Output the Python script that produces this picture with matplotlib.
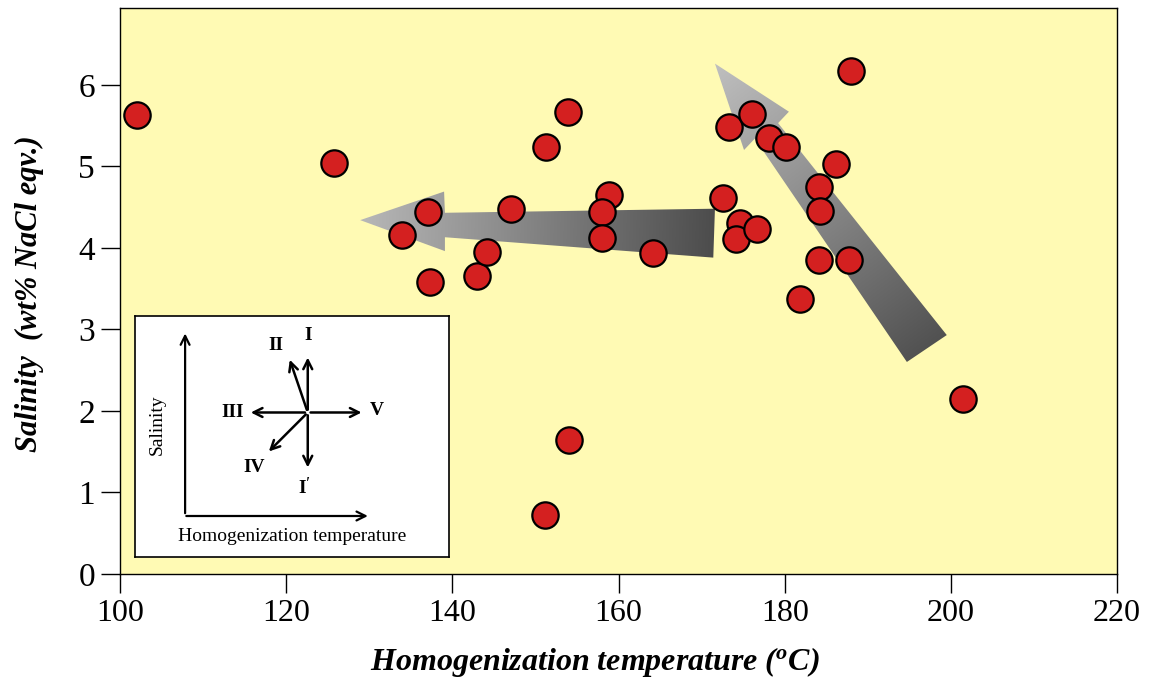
import numpy as np
import matplotlib
matplotlib.use('Agg')
import matplotlib.pyplot as plt
from matplotlib.patches import Polygon

plt.rcParams['font.family'] = ['Liberation Serif', 'DejaVu Serif']
plt.rcParams['mathtext.fontset'] = 'custom'
plt.rcParams['mathtext.rm'] = 'Liberation Serif:bold:italic'
plt.rcParams['mathtext.it'] = 'Liberation Serif:bold:italic'

# homogenization temperature (C) and salinity (wt% NaCl eqv.)
temp = [102.1, 125.8, 133.9, 137.1, 137.3, 143.0, 144.2, 147.1, 151.3, 153.9,
        151.2, 154.0, 158.9, 158.0, 158.0, 164.1, 172.6, 173.3, 174.6, 174.1,
        176.7, 176.1, 178.1, 180.2, 186.2, 184.1, 184.2, 184.1, 187.7, 188.0,
        181.8, 201.4]
salinity = [5.63, 5.04, 4.16, 4.44, 3.58, 3.66, 3.95, 4.48, 5.24, 5.67,
            0.72, 1.64, 4.65, 4.44, 4.12, 3.94, 4.61, 5.48, 4.31, 4.11,
            4.23, 5.64, 5.35, 5.24, 5.03, 4.75, 4.45, 3.85, 3.85, 6.17,
            3.37, 2.14]

xticks = [100, 120, 140, 160, 180, 200, 220]
yticks = [0, 1, 2, 3, 4, 5, 6]

# trend arrows (data coords): outline, tip first
arrow_left = [(128.9, 4.34), (139.0, 4.69), (139.1, 4.43), (171.6, 4.48),
              (171.4, 3.88), (139.1, 4.13), (139.1, 3.96)]
arrow_up = [(171.6, 6.26), (180.5, 5.67), (179.2, 5.53), (199.5, 2.93),
            (194.7, 2.60), (176.4, 5.34), (175.1, 5.20)]


def gradient_arrow(ax, pts, light, dark):
    pts = np.array(pts)
    poly = Polygon(pts, closed=True, facecolor='none', edgecolor='none')
    ax.add_patch(poly)
    x0, x1 = pts[:, 0].min(), pts[:, 0].max()
    y0, y1 = pts[:, 1].min(), pts[:, 1].max()
    X, Y = np.meshgrid(np.linspace(x0, x1, 300), np.linspace(y0, y1, 300))
    sx, sy = 8.31, 81.5  # approx px per data unit
    tip = pts[0]
    tail = (pts[3] + pts[4]) / 2
    du, dv = (tail[0] - tip[0]) * sx, (tail[1] - tip[1]) * sy
    t = ((X - tip[0]) * sx * du + (Y - tip[1]) * sy * dv) / (du ** 2 + dv ** 2)
    t = np.clip(t, 0, 1)[..., None]
    rgb = np.array(light) + t * (np.array(dark) - np.array(light))
    im = ax.imshow(rgb, extent=(x0, x1, y0, y1), origin='lower',
                   aspect='auto', zorder=2, interpolation='bilinear')
    im.set_clip_path(poly)


fig = plt.figure(figsize=(11.52, 6.8), dpi=100)
ax = fig.add_axes([0.1042, 0.156, 0.8655, 0.832])
ax.set_facecolor('#fffab4')

gradient_arrow(ax, arrow_left, (0.72, 0.72, 0.72), (0.30, 0.30, 0.30))
gradient_arrow(ax, arrow_up, (0.75, 0.75, 0.75), (0.32, 0.32, 0.32))

ax.scatter(temp, salinity, s=360, c='#d42020', edgecolors='black',
           linewidths=1.6, zorder=3)

ax.set_xlim(100, 220)
ax.set_ylim(0, 6.94)
ax.set_xticks(xticks)
ax.set_yticks(yticks)
ax.tick_params(direction='out', length=14, width=1, pad=4)
ax.tick_params(axis='x', labelsize=23)
ax.tick_params(axis='y', labelsize=24)
for s in ax.spines.values():
    s.set_linewidth(1)

ax.set_xlabel(r'Homogenization temperature ($^{\rm o}$C)', fontsize=23,
              fontweight='bold', fontstyle='italic')
ax.xaxis.set_label_coords(0.476, -0.125)
ax.set_ylabel('Salinity  (wt% NaCl eqv.)', fontsize=22, fontweight='bold',
              fontstyle='italic')
ax.yaxis.set_label_coords(-0.076, 0.495)

# inset sketch of trends
ins = fig.add_axes([0.117, 0.181, 0.273, 0.354])
ins.set_xlim(0, 1)
ins.set_ylim(0, 1)
ins.set_xticks([])
ins.set_yticks([])
for s in ins.spines.values():
    s.set_linewidth(1.2)

akw = dict(arrowstyle='->', lw=1.6, color='black', mutation_scale=16)
ins.annotate('', xy=(0.16, 0.94), xytext=(0.16, 0.17), arrowprops=akw)
ins.annotate('', xy=(0.75, 0.17), xytext=(0.155, 0.17), arrowprops=akw)
ins.text(0.07, 0.55, 'Salinity', rotation=90, ha='center', va='center', fontsize=14)
ins.text(0.5, 0.085, 'Homogenization temperature', ha='center', va='center', fontsize=14)

c = (0.55, 0.60)
dirs = {
    'I': ((0.55, 0.84), (0.55, 0.92)),
    'II': ((0.49, 0.83), (0.45, 0.88)),
    'III': ((0.36, 0.60), (0.31, 0.60)),
    'V': ((0.73, 0.60), (0.77, 0.61)),
    'IV': ((0.42, 0.43), (0.38, 0.37)),
    r'I$^{\prime}$': ((0.55, 0.36), (0.54, 0.29)),
}
for lab, (end, lpos) in dirs.items():
    ins.annotate('', xy=end, xytext=c,
                 arrowprops=dict(arrowstyle='->', lw=1.8, color='black',
                                 mutation_scale=16))
    ins.text(lpos[0], lpos[1], lab, ha='center', va='center', fontsize=14,
             fontweight='bold')

fig.savefig('out.png', dpi=100)
